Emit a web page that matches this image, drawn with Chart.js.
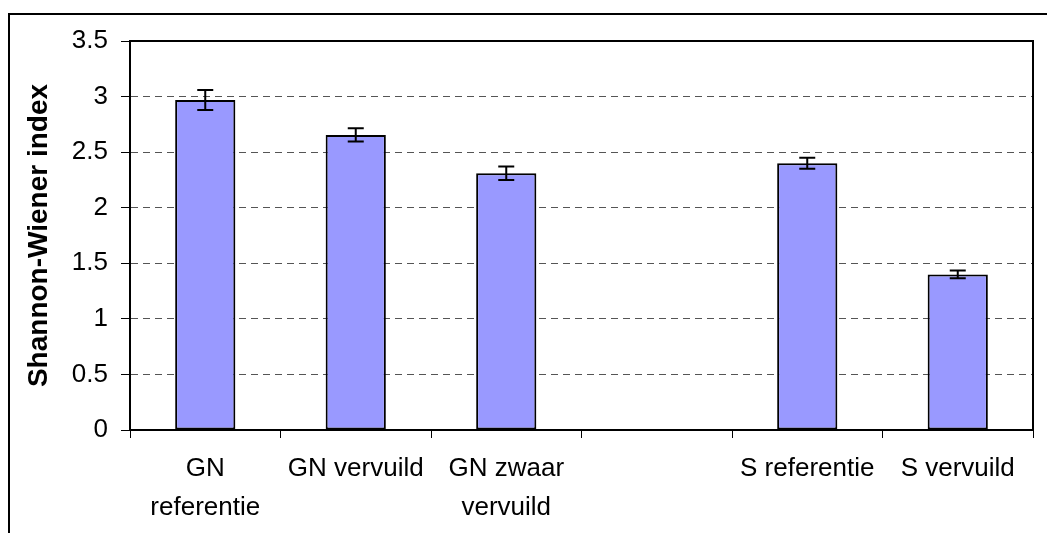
<!DOCTYPE html>
<html>
<head>
<meta charset="utf-8">
<script src="https://cdn.jsdelivr.net/npm/chart.js@4/dist/chart.umd.min.js"></script>
<style>
  body { margin: 0; background: #fff; }
  #wrap { width: 1047px; height: 533px; }
</style>
</head>
<body>
<div id="wrap"><canvas id="c" width="1047" height="533"></canvas></div>
<script>
// categorieen (lege plek tussen GN en S)
var categories = [['GN', 'referentie'], 'GN vervuild', ['GN zwaar', 'vervuild'], '', 'S referentie', 'S vervuild'];
var shannonValues = [2.97, 2.655, 2.31, null, 2.40, 1.40];
var shannonErrors = [0.09, 0.06, 0.06, null, 0.05, 0.035];
var yTicks = [0, 0.5, 1, 1.5, 2, 2.5, 3, 3.5];

var fontFamily = '"Liberation Sans", Arial, sans-serif';

// kader rond plotgebied + buitenkader
var frames = {
    id: 'frames',
    afterDraw: function (chart) {
        var ctx = chart.ctx, a = chart.chartArea;
        ctx.save();
        ctx.strokeStyle = '#000';
        ctx.lineWidth = 2;
        ctx.strokeRect(a.left, a.top, a.right - a.left, a.bottom - a.top);
        ctx.beginPath();
        ctx.moveTo(9, chart.height + 5);
        ctx.lineTo(9, 14);
        ctx.lineTo(chart.width + 5, 14);
        ctx.stroke();
        ctx.restore();
    }
};

// foutbalken
var errorBars = {
    id: 'errorBars',
    afterDatasetsDraw: function (chart) {
        var ctx = chart.ctx;
        var y = chart.scales.y;
        var meta = chart.getDatasetMeta(0);
        ctx.save();
        ctx.strokeStyle = '#000';
        ctx.lineWidth = 2;
        meta.data.forEach(function (bar, i) {
            var v = shannonValues[i], e = shannonErrors[i];
            if (v == null || e == null) return;
            var top = y.getPixelForValue(v + e);
            var bot = y.getPixelForValue(v - e);
            ctx.beginPath();
            ctx.moveTo(bar.x, top);
            ctx.lineTo(bar.x, bot);
            ctx.moveTo(bar.x - 8, top);
            ctx.lineTo(bar.x + 8, top);
            ctx.moveTo(bar.x - 8, bot);
            ctx.lineTo(bar.x + 8, bot);
            ctx.stroke();
        });
        ctx.restore();
    }
};

var ctx = document.getElementById('c').getContext('2d');
var chart = new Chart(ctx, {
    type: 'bar',
    data: {
        labels: categories,
        datasets: [{
            data: shannonValues,
            backgroundColor: '#9999FF',
            borderColor: '#000',
            borderWidth: 2,
            borderSkipped: false,
            barPercentage: 0.4,
            categoryPercentage: 1
        }]
    },
    options: {
        responsive: false,
        animation: false,
        layout: { padding: { top: 41, right: 14, left: 0, bottom: 0 } },
        plugins: { legend: { display: false }, tooltip: { enabled: false } },
        scales: {
            x: {
                offset: true,
                grid: { offset: true, drawOnChartArea: false, tickLength: 8, tickColor: '#000', lineWidth: 1 },
                border: { display: true, color: '#000', width: 2 },
                ticks: {
                    color: '#000',
                    padding: 12,
                    maxRotation: 0,
                    autoSkip: false,
                    font: { family: fontFamily, size: 26, lineHeight: 1.48 }
                },
                afterFit: function (s) { s.height = 103; }
            },
            y: {
                min: 0,
                max: 3.5,
                afterBuildTicks: function (s) {
                    s.ticks = yTicks.map(function (v) { return { value: v }; });
                },
                grid: { color: '#555', lineWidth: 1, tickLength: 9, tickColor: '#000' },
                border: { display: true, color: '#000', width: 2, dash: [7, 5] },
                ticks: {
                    color: '#000',
                    padding: 13,
                    font: { family: fontFamily, size: 26 },
                    callback: function (v) { return String(v); }
                },
                title: {
                    display: true,
                    text: 'Shannon-Wiener index',
                    color: '#000',
                    padding: { top: 22, bottom: 0 },
                    font: { family: fontFamily, size: 28, weight: 'bold' }
                },
                afterFit: function (s) { s.width = 130; }
            }
        }
    },
    plugins: [frames, errorBars]
});
</script>
</body>
</html>
